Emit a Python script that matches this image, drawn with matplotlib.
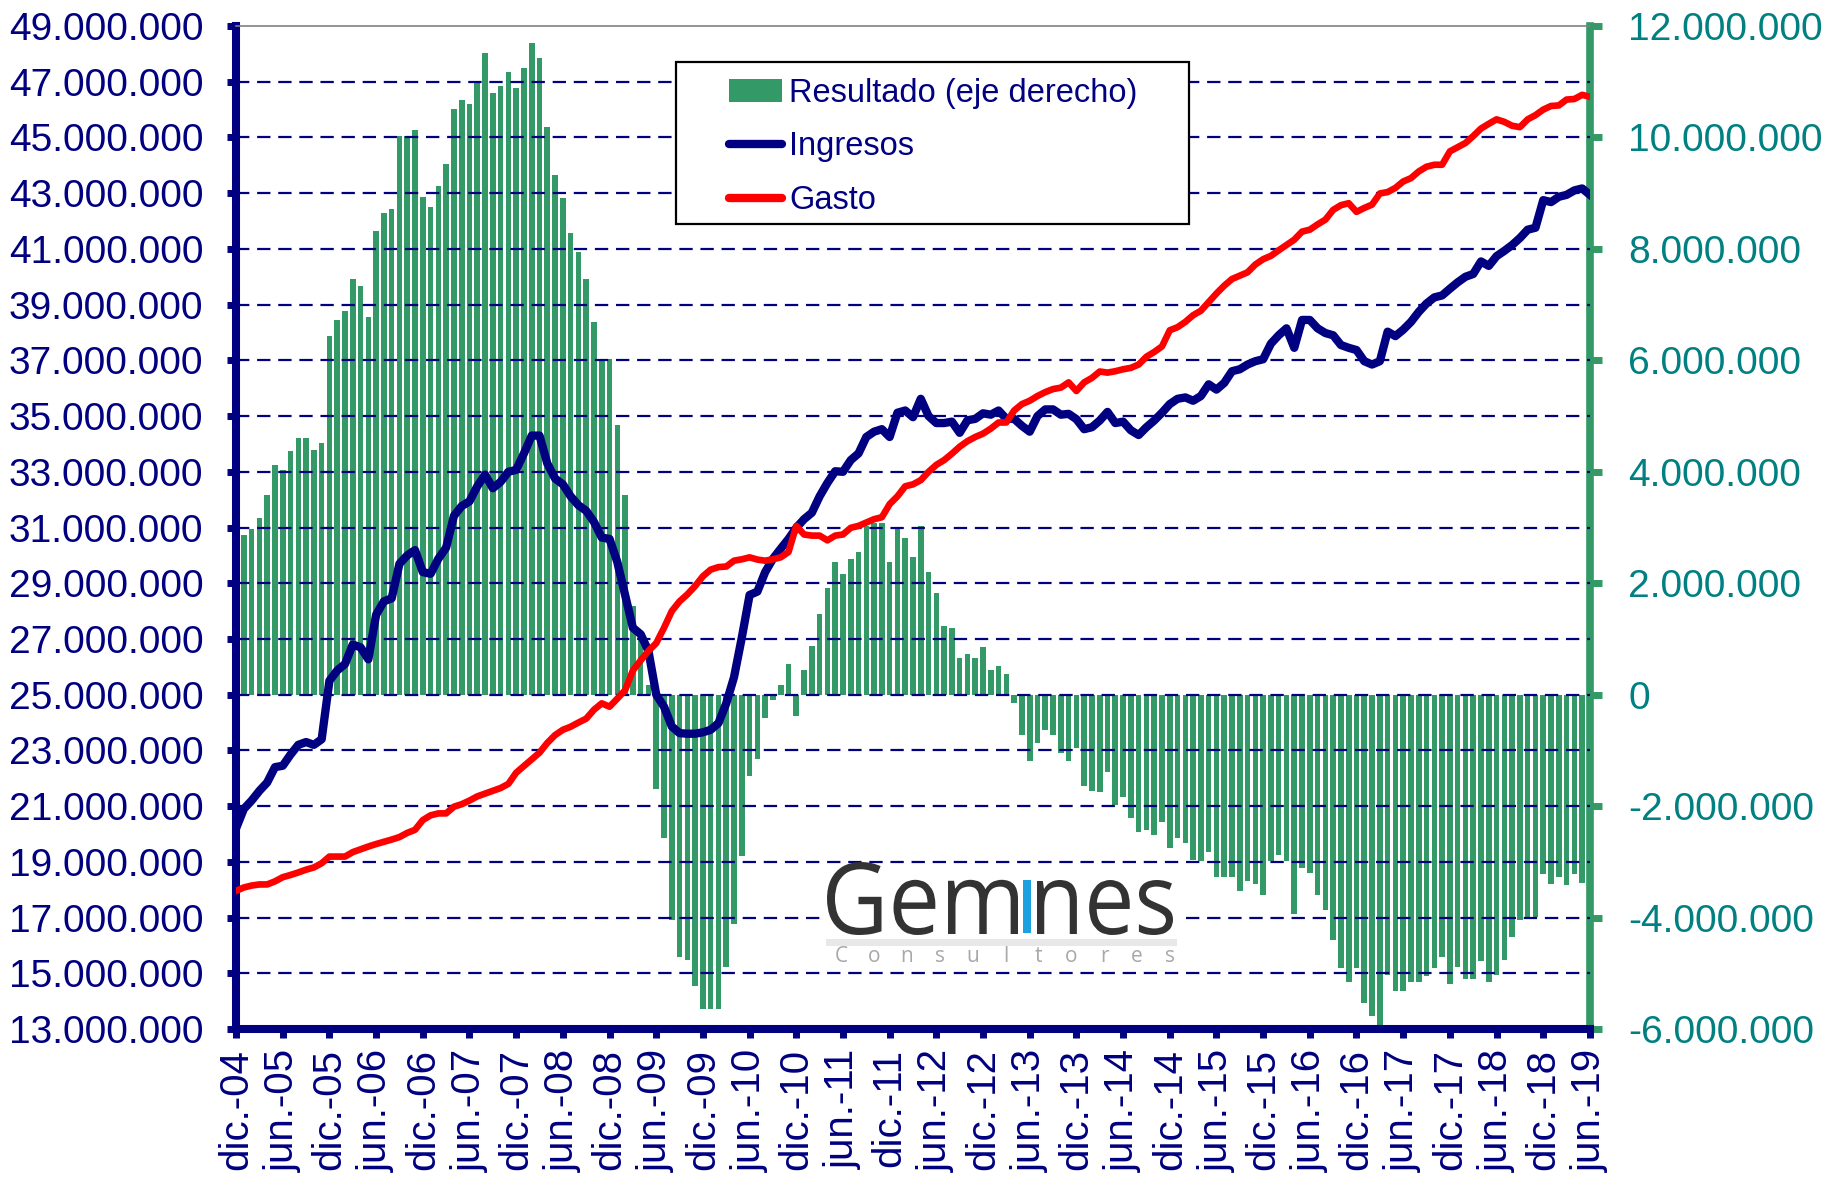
import numpy as np
import matplotlib
matplotlib.use("Agg")
import matplotlib.pyplot as plt
from matplotlib.ticker import FixedLocator, FuncFormatter
from matplotlib.patches import Patch, Rectangle, PathPatch
from matplotlib.lines import Line2D
from matplotlib.textpath import TextPath
from matplotlib.font_manager import FontProperties
import matplotlib.transforms as mtransforms

plt.rcParams['font.family'] = ['Liberation Sans', 'DejaVu Sans']

# datos mensuales, dic-04 .. jun-19, en millones
resultado = [2.23, 2.86, 2.98, 3.18, 3.59, 4.12, 4.04, 4.37, 4.60, 4.60, 4.40, 4.51,
             6.43, 6.73, 6.88, 7.46, 7.34, 6.77, 8.32, 8.64, 8.72, 10.02, 10.02, 10.14,
             8.93, 8.76, 9.13, 9.53, 10.51, 10.67, 10.60, 11.00, 11.52, 10.80, 10.92, 11.17,
             10.89, 11.25, 11.69, 11.42, 10.19, 9.33, 8.91, 8.29, 7.95, 7.46, 6.68, 6.03,
             6.03, 4.84, 3.59, 1.59, 1.00, 0.17, -1.69, -2.57, -4.05, -4.70, -4.76, -5.23,
             -5.64, -5.64, -5.64, -4.88, -4.11, -2.90, -1.45, -1.16, -0.42, -0.10, 0.17, 0.55,
             -0.39, 0.45, 0.87, 1.44, 1.91, 2.38, 2.17, 2.44, 2.56, 3.03, 3.09, 3.09,
             2.38, 2.98, 2.82, 2.48, 3.03, 2.21, 1.83, 1.24, 1.20, 0.65, 0.73, 0.65,
             0.85, 0.44, 0.52, 0.38, -0.15, -0.72, -1.19, -0.86, -0.63, -0.72, -1.04, -1.19,
             -0.96, -1.63, -1.72, -1.75, -1.39, -1.98, -1.84, -2.22, -2.46, -2.43, -2.51, -2.28,
             -2.75, -2.57, -2.67, -2.96, -2.99, -2.83, -3.28, -3.28, -3.28, -3.52, -3.34, -3.40,
             -3.60, -2.99, -2.87, -2.99, -3.93, -3.11, -3.20, -3.60, -3.87, -4.40, -4.90, -5.15,
             -4.90, -5.53, -5.76, -5.94, -5.03, -5.31, -5.31, -5.15, -5.15, -5.05, -4.90, -4.70,
             -5.19, -4.88, -5.11, -5.11, -4.78, -5.15, -5.03, -4.76, -4.34, -4.05, -3.99, -3.99,
             -3.22, -3.40, -3.28, -3.42, -3.22, -3.38, -3.58]

ingresos = [20.2, 20.9, 21.2, 21.55, 21.85, 22.4, 22.45, 22.85, 23.2, 23.3, 23.2, 23.4,
            25.5, 25.87, 26.1, 26.8, 26.7, 26.27, 27.87, 28.35, 28.46, 29.7, 30.0, 30.19,
            29.4, 29.34, 29.88, 30.28, 31.42, 31.77, 31.94, 32.48, 32.9, 32.41, 32.64, 33.0,
            33.07, 33.66, 34.3, 34.3, 33.3, 32.76, 32.55, 32.12, 31.8, 31.6, 31.2, 30.64,
            30.59, 29.76, 28.58, 27.4, 27.17, 26.57, 25.0, 24.57, 23.86, 23.62, 23.6, 23.6,
            23.65, 23.74, 23.98, 24.69, 25.63, 27.05, 28.58, 28.7, 29.4, 29.88, 30.24, 30.59,
            30.99, 31.3, 31.53, 32.12, 32.6, 33.02, 33.0, 33.42, 33.66, 34.25, 34.44, 34.53,
            34.25, 35.12, 35.2, 34.96, 35.62, 35.0, 34.75, 34.75, 34.8, 34.4, 34.85, 34.9,
            35.1, 35.05, 35.2, 34.9, 34.9, 34.65, 34.44, 35.0, 35.24, 35.24, 35.05, 35.08,
            34.89, 34.53, 34.6, 34.84, 35.15, 34.75, 34.8, 34.49, 34.32, 34.6, 34.84, 35.12,
            35.43, 35.62, 35.67, 35.55, 35.72, 36.14, 35.95, 36.19, 36.61, 36.68, 36.85, 36.97,
            37.04, 37.6, 37.9, 38.15, 37.45, 38.45, 38.45, 38.15, 37.98, 37.9, 37.55, 37.45,
            37.37, 36.97, 36.85, 36.97, 38.03, 37.87, 38.1, 38.38, 38.74, 39.04, 39.26, 39.33,
            39.57, 39.8, 40.0, 40.1, 40.55, 40.39, 40.74, 40.93, 41.14, 41.39, 41.69, 41.76,
            42.75, 42.68, 42.87, 42.94, 43.1, 43.17, 42.94]

gasto = [17.96, 18.08, 18.15, 18.19, 18.19, 18.3, 18.45, 18.53, 18.62, 18.72, 18.8, 18.95,
         19.19, 19.19, 19.19, 19.35, 19.45, 19.55, 19.64, 19.72, 19.8, 19.89, 20.04, 20.15,
         20.5, 20.67, 20.74, 20.74, 20.98, 21.07, 21.2, 21.35, 21.45, 21.55, 21.65, 21.8,
         22.2, 22.44, 22.68, 22.92, 23.27, 23.55, 23.74, 23.85, 24.0, 24.14, 24.46, 24.69,
         24.57, 24.86, 25.16, 25.87, 26.23, 26.57, 26.85, 27.4, 28.0, 28.35, 28.6, 28.9,
         29.25, 29.49, 29.58, 29.6, 29.81, 29.86, 29.93, 29.85, 29.81, 29.86, 29.93, 30.12,
         31.06, 30.75, 30.71, 30.71, 30.54, 30.71, 30.75, 30.99, 31.06, 31.18, 31.3, 31.37,
         31.84, 32.12, 32.48, 32.55, 32.7, 33.0, 33.25, 33.42, 33.65, 33.9, 34.1, 34.25,
         34.37, 34.55, 34.77, 34.77, 35.2, 35.43, 35.55, 35.72, 35.86, 35.97, 36.02, 36.21,
         35.9, 36.21, 36.37, 36.6, 36.56, 36.61, 36.68, 36.73, 36.85, 37.13, 37.3, 37.5,
         38.08, 38.19, 38.38, 38.62, 38.78, 39.09, 39.4, 39.68, 39.92, 40.04, 40.16, 40.44,
         40.63, 40.75, 40.95, 41.14, 41.33, 41.62, 41.69, 41.88, 42.05, 42.4, 42.57, 42.64,
         42.33, 42.47, 42.59, 42.99, 43.04, 43.19, 43.42, 43.54, 43.78, 43.95, 44.02, 44.02,
         44.5, 44.65, 44.8, 45.05, 45.32, 45.49, 45.65, 45.56, 45.42, 45.37, 45.65, 45.8,
         46.0, 46.13, 46.15, 46.36, 46.38, 46.53, 46.46]

meses = ['ene.', 'feb.', 'mar.', 'abr.', 'may.', 'jun.',
         'jul.', 'ago.', 'sep.', 'oct.', 'nov.', 'dic.']
n = len(resultado)
etiquetas = [f"{meses[(11 + k) % 12]}-{(2004 + (11 + k) // 12) % 100:02d}" for k in range(n)]

ticks_izq = np.arange(13e6, 49.1e6, 2e6)
ticks_der = np.arange(-6e6, 12.1e6, 2e6)

AZUL = '#000080'
VERDE = '#339966'
ROJO = '#ff0000'
TEAL = '#008080'

W, H = 1837, 1188
def fx(px):
    return px / W
def fy(py):
    return 1 - py / H

x = np.arange(n)
fig = plt.figure(figsize=(18.37, 11.88), dpi=100)
ax = fig.add_axes([0.1285, 0.1338, 0.7370, 0.8443])
ax2 = ax.twinx()

ax2.bar(x, np.array(resultado) * 1e6, width=0.72, color=VERDE, linewidth=0)
ax.plot(x, np.array(ingresos) * 1e6, color=AZUL, lw=6, solid_joinstyle='round', zorder=4)
ax.plot(x, np.array(gasto) * 1e6, color=ROJO, lw=4.8, solid_joinstyle='round', zorder=5)

ax.set_zorder(ax2.get_zorder() + 1)
ax.patch.set_visible(False)

ax.set_xlim(0, n - 1)
ax.set_ylim(13e6, 49e6)
ax2.set_ylim(-6e6, 12e6)

for v in ticks_izq[1:-1]:
    ax.axhline(v, color=AZUL, lw=1.6, ls=(0, (6, 3.5)), zorder=1.5)

miles = FuncFormatter(lambda v, p: f"{v:,.0f}".replace(",", "."))
ax.yaxis.set_major_locator(FixedLocator(ticks_izq))
ax.yaxis.set_major_formatter(miles)
ax2.yaxis.set_major_locator(FixedLocator(ticks_der))
ax2.yaxis.set_major_formatter(miles)
ax.xaxis.set_major_locator(FixedLocator(x[::6]))
ax.set_xticklabels(etiquetas[::6], rotation=90)

for s in ['left', 'bottom']:
    ax.spines[s].set_color(AZUL)
    ax.spines[s].set_linewidth(5.8)
ax.spines['top'].set_color('#808080')
ax.spines['top'].set_linewidth(1.2)
ax.spines['right'].set_visible(False)
ax2.spines['right'].set_color(VERDE)
ax2.spines['right'].set_linewidth(5.5)
for s in ['left', 'bottom', 'top']:
    ax2.spines[s].set_visible(False)

ax.tick_params(axis='y', direction='out', length=6.5, width=5, color=AZUL,
               labelcolor=AZUL, labelsize=28, pad=17)
ax.tick_params(axis='x', direction='out', length=6.5, width=5, color=AZUL,
               labelcolor=AZUL, labelsize=29, pad=8)
ax2.tick_params(axis='y', direction='out', length=8.5, width=5, color=VERDE,
                labelcolor=TEAL, labelsize=28, pad=19)

# leyenda
handles = [Patch(facecolor=VERDE, edgecolor='none'),
           Line2D([], [], color=AZUL, lw=6, solid_capstyle='round'),
           Line2D([], [], color=ROJO, lw=6, solid_capstyle='round')]
leg = ax.legend(handles, ['Resultado (eje derecho)', 'Ingresos', 'Gasto'],
                loc='center', bbox_to_anchor=(fx(933), fy(147)),
                bbox_transform=fig.transFigure, frameon=False, fontsize=23.5,
                handlelength=1.65, handletextpad=0.2, labelspacing=0.7,
                borderpad=0, labelcolor=AZUL)
leg.set_zorder(8)
marco = Rectangle((fx(676), fy(224)), fx(1189) - fx(676), fy(62) - fy(224),
                  transform=fig.transFigure, facecolor='white', edgecolor='black',
                  lw=1.6, zorder=7, clip_on=False)
ax.add_artist(marco)

# logo
ax.add_artist(Rectangle((fx(822), fy(968)), fx(1182) - fx(822), fy(866) - fy(968),
                        transform=fig.transFigure, facecolor='white', edgecolor='none',
                        zorder=6, clip_on=False))
ax.add_artist(Rectangle((fx(826), fy(946)), fx(1177) - fx(826), fy(939) - fy(946),
                        transform=fig.transFigure, facecolor='#e8e8e8', edgecolor='none',
                        zorder=6.5, clip_on=False))

def logo_texto(s, x0, x1, ytop, ybase, color):
    tp = TextPath((0, 0), s, size=100, prop=FontProperties(family='Open Sans'))
    bb = tp.get_extents()
    X0, X1, Y0, Y1 = fx(x0), fx(x1), fy(ybase), fy(ytop)
    tr = (mtransforms.Affine2D().translate(-bb.x0, -bb.y0)
          .scale((X1 - X0) / bb.width, (Y1 - Y0) / bb.height).translate(X0, Y0))
    ax.add_artist(PathPatch(tr.transform_path(tp), facecolor=color, edgecolor='none',
                            transform=fig.transFigure, zorder=7, clip_on=False))

logo_texto('Gem', 827, 1018, 862, 935, '#333333')
logo_texto('nes', 1037, 1173, 880, 935, '#333333')
ax.add_artist(Rectangle((fx(1023), fy(933)), fx(1031) - fx(1023), fy(880) - fy(933),
                        transform=fig.transFigure, facecolor='#1ba1e2', edgecolor='none',
                        zorder=7, clip_on=False))
for i, ch in enumerate('Consultores'):
    fig.text(fx(841 + i * 32.9), fy(957), ch, ha='center', va='center',
             fontsize=15, color='#a8a8a8', family='Open Sans')

fig.savefig('out.png', dpi=100)
